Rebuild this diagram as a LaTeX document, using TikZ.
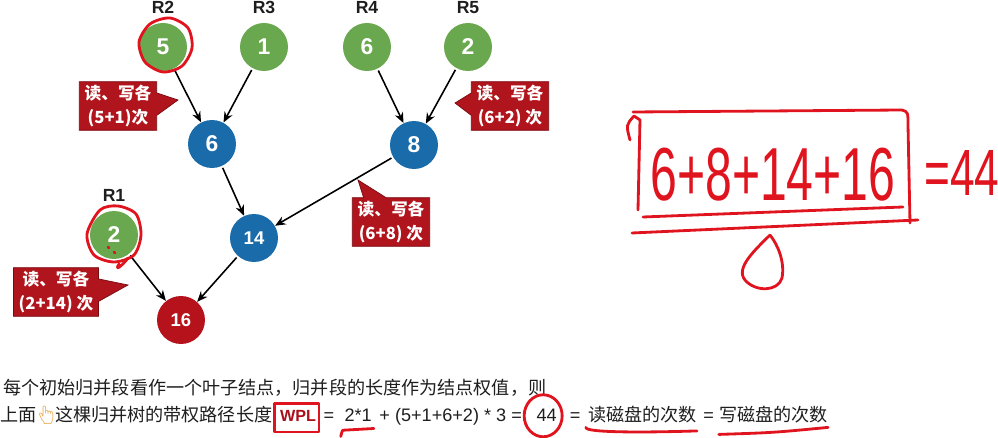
\documentclass[tikz,border=0pt]{standalone}
\usepackage{fontspec}
\setmainfont{Liberation Sans}
\newfontfamily\cjk{Noto Sans CJK SC}
\newfontfamily\emojifont{Noto Emoji}
\usetikzlibrary{positioning,arrows.meta,shapes.callouts}
\definecolor{leafgreen}{HTML}{6AA84F}
\definecolor{mergeblue}{HTML}{1A6BAA}
\definecolor{rootred}{HTML}{B5121B}
\definecolor{tipred}{HTML}{B0141C}
\definecolor{tipedge}{HTML}{7A0A10}
\definecolor{penred}{HTML}{E0141E}
\definecolor{wplred}{HTML}{A8101A}
\definecolor{handyellow}{HTML}{E8A33D}
\definecolor{ink}{HTML}{1E1E1E}

\tikzset{
  run/.style={circle, minimum size=0.96cm, inner sep=0pt, text=white,
    font=\bfseries\fontsize{13}{13}\selectfont},
  leaf/.style={run, fill=leafgreen},
  merged/.style={run, fill=mergeblue},
  rootrun/.style={run, fill=rootred},
  small/.style={font=\bfseries\fontsize{10.5}{11}\selectfont},
  rlabel/.style={inner sep=0pt, text=ink, font=\bfseries\fontsize{10}{12}\selectfont},
  tip/.style={rectangle callout, fill=tipred, draw=tipedge, line width=0.4pt,
    text=white, align=center, inner xsep=3pt, inner ysep=2pt,
    minimum width=1.5cm, minimum height=0.96cm, callout pointer width=0.45cm,
    font=\cjk\bfseries\fontsize{9.5}{13.5}\selectfont},
  merge/.style={->, line width=0.9pt, shorten <=1pt},
  pen/.style={penred, line width=1.6pt, line cap=round, line join=round},
  txt/.style={anchor=base west, inner sep=0pt, text=ink, font=\cjk\fontsize{10.3}{13}\selectfont},
  lat/.style={anchor=base west, inner sep=0pt, text=ink, font=\fontsize{10.3}{13}\selectfont},
}

\begin{document}
\begin{tikzpicture}[x=0.02cm, y=-0.02cm, >={Stealth[length=6pt,width=5pt]}]
  \useasboundingbox (0,0) rectangle (998,438);

  % initial runs
  \node[leaf] (r2) at (163,47) {5};
  \node[leaf] (r3) at (264,47) {1};
  \node[leaf] (r4) at (367,47) {6};
  \node[leaf] (r5) at (468,47) {2};
  \node[leaf] (r1) at (114,235) {2};
  \node[rlabel, above=5pt of r2] (r2lab) {R2};
  \node[rlabel, above=5pt of r3] (r3lab) {R3};
  \node[rlabel, above=5pt of r4] (r4lab) {R4};
  \node[rlabel, above=5pt of r5] (r5lab) {R5};
  \node[rlabel, above=5pt of r1] (r1lab) {R1};

  % merged runs
  \node[merged] (m6) at (212,144) {6};
  \node[merged] (m8) at (414,145) {8};
  \node[merged, small] (m14) at (254,238) {14};
  \node[rootrun, small] (m16) at (181,320) {16};

  \draw[merge] (r2) -- (m6);
  \draw[merge] (r3) -- (m6);
  \draw[merge] (r4) -- (m8);
  \draw[merge] (r5) -- (m8);
  \draw[merge] (m6) -- (m14);
  \draw[merge] (m8) -- (m14);
  \draw[merge] (r1) -- (m16);
  \draw[merge] (m14) -- (m16);

  % read/write counts
  \coordinate (p1) at (178,100);
  \coordinate (p2) at (455,103);
  \coordinate (p3) at (358,180);
  \coordinate (p4) at (128,285);
  \node[tip, callout absolute pointer={(p1)}] (tip1) at (118,106) {读、写各\\(5+1)次};
  \node[tip, callout absolute pointer={(p2)}] (tip2) at (510,106) {读、写各\\(6+2) 次};
  \node[tip, callout absolute pointer={(p3)}] (tip3) at (391,222) {读、写各\\(6+8) 次};
  \node[tip, callout absolute pointer={(p4)}] (tip4) at (56,292) {读、写各\\(2+14) 次};

  % text below
  \node[txt] (line1) at (3,395) {每个初始归并段看作一个叶子结点，归并段的长度作为结点权值，则};
  \node[txt] (line2) at (0,422) {上面{\emojifont\color{handyellow}\kern-1pt👆\kern-1.5pt}这棵归并树的带权路径长度};
  \node[lat, text=wplred, font=\bfseries\fontsize{9.2}{13}\selectfont] (wpl) at ([xshift=4pt]line2.base east) {WPL};
  \node[lat] (eq1) at ([xshift=4pt]wpl.base east) {=};
  \node[lat] (times) at ([xshift=5.5pt]eq1.base east) {2*1};
  \node[lat] (sum) at ([xshift=4pt]times.base east) {+ (5+1+6+2) * 3 =};
  \node[lat] (v44) at ([xshift=8pt]sum.base east) {44};
  \node[lat] (eq2) at ([xshift=7pt]v44.base east) {=};
  \node[txt] (rdisk) at ([xshift=4pt]eq2.base east) {读磁盘的次数};
  \node[lat] (eq3) at ([xshift=3.5pt]rdisk.base east) {=};
  \node[txt] (wdisk) at ([xshift=2.5pt]eq3.base east) {写磁盘的次数};

  % pen marks
  \draw[pen] plot[smooth cycle] coordinates {(150,24) (170,18) (188,28) (192,48) (182,66) (163,72) (145,62) (139,42)};
  \draw[pen] plot[smooth cycle] coordinates {(100,210) (118,206) (136,214) (141,235) (134,255) (114,262) (94,255) (87,234)};
  \draw[pen] (128,258) .. controls (122,266) and (114,272) .. (119,264);
  \draw[pen] (108,247) -- (109,248) (114,252) -- (115,253);
  \draw[pen] ([shift={(-3pt,4pt)}]wpl.north west) -- ([shift={(1.5pt,4pt)}]wpl.north east)
    -- ([shift={(1.5pt,-5.5pt)}]wpl.south east) -- ([shift={(-3pt,-5.5pt)}]wpl.south west) -- cycle;
  \draw[pen] ([shift={(-1pt,-4.5pt)}]times.south west) -- ([shift={(1pt,-3.5pt)}]times.south east)
    ([shift={(-1pt,-4.5pt)}]times.south west) -- ([shift={(-2pt,-8pt)}]times.south west);
  \draw[pen] ([xshift=-2pt]v44.center) ellipse (19 and 21);
  \draw[pen] ([shift={(-1pt,-2pt)}]rdisk.south west) .. controls ([shift={(-2pt,-5pt)}]rdisk.south west) and ([shift={(0pt,-5pt)}]rdisk.south) .. ([shift={(0pt,-4pt)}]rdisk.south east);
  \draw[pen] ([shift={(0pt,-6pt)}]wdisk.south west) .. controls ([shift={(0pt,-5pt)}]wdisk.south) .. ([shift={(0pt,-2pt)}]wdisk.south east);

  % handwritten sum
  \node[text=penred, inner sep=0pt, anchor=west] (hsum) at (650,175)
    {\resizebox{4.9cm}{1.05cm}{6+8+14+16}};
  \node[text=penred, inner sep=0pt, anchor=west] (hres) at (924,173)
    {\resizebox{1.5cm}{0.9cm}{=44}};
  \draw[pen] (633,112) -- (902,110) .. controls (908,112) .. (908,125) -- (910,223);
  \draw[pen] (643,217) -- (903,207);
  \draw[pen] (632,233) -- (918,220);
  \draw[pen] (630,140) .. controls (626,125) .. (634,116) -- (640,120) -- (638,210);
  \draw[pen] (770,235) .. controls (755,250) and (735,268) .. (745,280)
    .. controls (755,292) and (778,292) .. (782,278) .. controls (785,262) and (778,245) .. (770,235);
\end{tikzpicture}
\end{document}
